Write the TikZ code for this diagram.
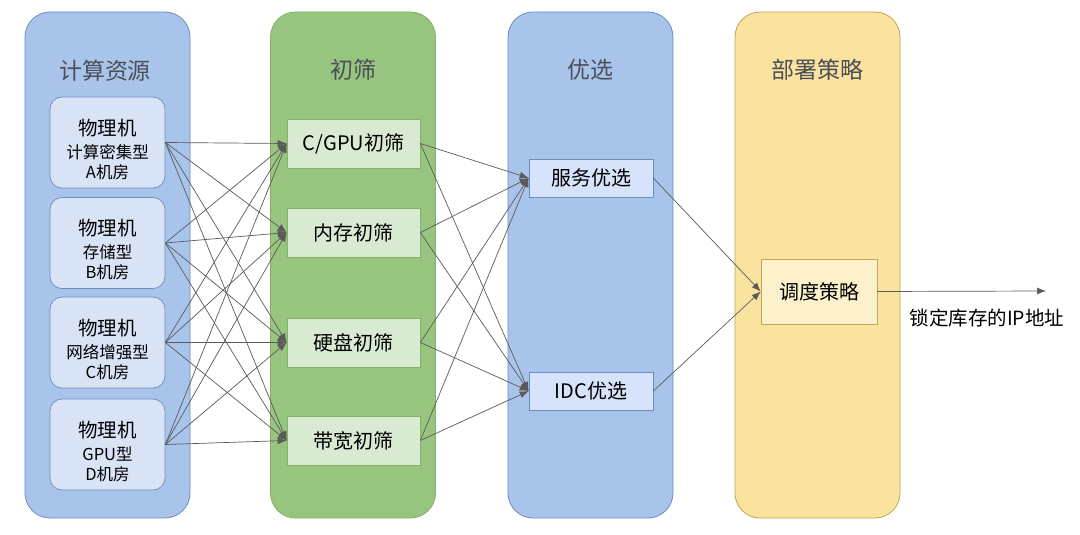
\documentclass[tikz,border=0pt]{standalone}
\usepackage{fontspec}
\setmainfont{Noto Sans CJK SC}
\usetikzlibrary{arrows.meta}
\definecolor{bluecol}{HTML}{A9C4EB}
\definecolor{blueline}{HTML}{6C8EBF}
\definecolor{greencol}{HTML}{97C47E}
\definecolor{greenline}{HTML}{82B366}
\definecolor{yellowcol}{HTML}{FAE29F}
\definecolor{yellowline}{HTML}{C4A650}
\definecolor{machfill}{HTML}{D9E3F6}
\definecolor{filtfill}{HTML}{D8EAD2}
\definecolor{optfill}{HTML}{D6E3FA}
\definecolor{stratfill}{HTML}{FDF1CB}
\definecolor{titlecol}{HTML}{4A4F58}
\definecolor{conncol}{HTML}{5A5A5A}
\tikzset{
  column/.style={draw=#1line, fill=#1col, rounded corners=25pt, minimum width=165pt, minimum height=506pt, line width=0.8pt},
  coltitle/.style={text=titlecol, font=\fontsize{23}{26}\selectfont},
  machbox/.style={draw=blueline, fill=machfill, rounded corners=12pt, minimum width=115pt, minimum height=91pt, line width=0.7pt},
  machline/.style={inner sep=0pt, text=black},
  filtbox/.style={draw=greenline, fill=filtfill, minimum width=133pt, minimum height=49pt, font=\fontsize{20}{24}\selectfont, line width=0.7pt},
  optbox/.style={draw=blueline, fill=optfill, minimum width=124pt, minimum height=38pt, font=\fontsize{20}{24}\selectfont, line width=0.7pt},
  stratbox/.style={draw=yellowline, fill=stratfill, minimum width=116pt, minimum height=65pt, font=\fontsize{20}{24}\selectfont, line width=0.7pt},
  conn/.style={draw=conncol, line width=0.7pt, -{Latex[length=9pt,width=7pt]}},
  outlabel/.style={font=\fontsize{19.5}{23}\selectfont}
}
\newcommand{\machnode}[4]{%
  \node[machbox] (#1) at (107.5,#2) {};
  \node[machline, font=\fontsize{19.5}{22}\selectfont] (#1l1) at (107.5,#2-14.5) {物理机};
  \node[machline, font=\fontsize{16.5}{20}\selectfont] (#1l2) at (107.5,#2+9.5) {#3};
  \node[machline, font=\fontsize{16.5}{20}\selectfont] (#1l3) at (107.5,#2+29.5) {#4};
}
\begin{document}
\begin{tikzpicture}[x=1pt,y=-1pt]
\useasboundingbox[fill=white] (0,0) rectangle (1080,535);
% columns
\node[column=blue] (c1) at (107.5,265) {};
\node[column=green] (c2) at (353,265) {};
\node[column=blue] (c3) at (590.5,265) {};
\node[column=yellow] (c4) at (817.5,265) {};
\node[coltitle] (t1) at (105,71) {计算资源};
\node[coltitle] (t2) at (353,70) {初筛};
\node[coltitle] (t3) at (590.5,70) {优选};
\node[coltitle] (t4) at (817.5,70) {部署策略};
% machines
\machnode{ma}{142.5}{计算密集型}{A机房}
\machnode{mb}{243}{存储型}{B机房}
\machnode{mc}{342.5}{网络增强型}{C机房}
\machnode{md}{444.5}{GPU型}{D机房}
% filters
\node[filtbox] (fa) at (353.5,143.5) {C/GPU初筛};
\node[filtbox] (fb) at (353.5,232.5) {内存初筛};
\node[filtbox] (fc) at (353.5,342.5) {硬盘初筛};
\node[filtbox] (fd) at (353.5,440.5) {带宽初筛};
% optimizers
\node[optbox] (oa) at (591,178) {服务优选};
\node[optbox] (ob) at (591,391) {IDC优选};
% strategy
\node[stratbox] (s) at (819,291.5) {调度策略};
\coordinate (out) at (1046,291);
\node[outlabel] (ol) at (987,318) {锁定库存的IP地址};
% connectors
\foreach \m in {ma,mb,mc,md}{
  \foreach \f in {fa,fb,fc,fd}{
    \draw[conn] (\m.east) -- (\f.west);
  }
}
\foreach \f in {fa,fb,fc,fd}{
  \foreach \o in {oa,ob}{
    \draw[conn] (\f.east) -- (\o.west);
  }
}
\draw[conn] (oa.east) -- (s.west);
\draw[conn] (ob.east) -- (s.west);
\draw[conn] (s.east) -- (out);
\end{tikzpicture}
\end{document}
